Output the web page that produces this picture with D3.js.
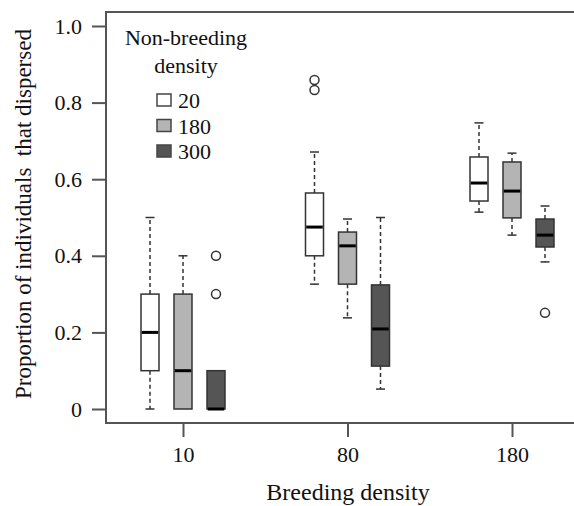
<!DOCTYPE html>
<html>
<head>
<meta charset="utf-8">
<script src="https://cdn.jsdelivr.net/npm/d3@7"></script>
<style>
  body { margin: 0; background: #fff; }
  svg text { font-family: "Liberation Serif", "Times New Roman", serif; fill: #111; }
</style>
</head>
<body>
<div id="chart"></div>
<script>
// breeding density groups on the x axis, non-breeding density series inside each group
const breeding = ['10', '80', '180'];
const nonBreeding = ['20', '180', '300'];
const fills = ['#ffffff', '#b4b4b4', '#555555'];

// box statistics, [series][group]
const whiskerLow = [[0, 0.326, 0.514], [0, 0.238, 0.454], [0, 0.052, 0.384]];
const quart1 = [[0.1, 0.40, 0.543], [0, 0.326, 0.499], [0, 0.112, 0.423]];
const medians = [[0.2, 0.475, 0.59], [0.1, 0.426, 0.569], [0, 0.209, 0.454]];
const quart3 = [[0.3, 0.564, 0.658], [0.3, 0.462, 0.645], [0.1, 0.324, 0.496]];
const whiskerHigh = [[0.5, 0.671, 0.747], [0.4, 0.496, 0.668], [0.1, 0.5, 0.53]];
const outliers = [[[], [0.833, 0.859], []], [[], [], []], [[0.3, 0.4], [], [0.251]]];

const yTicks = [0, 0.2, 0.4, 0.6, 0.8, 1.0];

const width = 574, height = 506;
const margin = { top: 12, left: 106, bottom: 83 };
const plotBottom = height - margin.bottom;

const svg = d3.select('#chart').append('svg')
  .attr('width', width)
  .attr('height', height);

const y = d3.scaleLinear().domain([0, 1]).range([409, 26]);
const x = d3.scalePoint().domain(breeding).range([183, 512]);
const offset = d3.scalePoint().domain(nonBreeding).range([-33, 33]);
const boxW = 18, capW = 9;

// frame (right side is cut off in the original)
const axisColor = '#555';
svg.append('path')
  .attr('d', `M${width + 5},${margin.top}H${margin.left}V${plotBottom}H${width + 5}`)
  .attr('fill', 'none')
  .attr('stroke', axisColor)
  .attr('stroke-width', 2);

// axes
const yAxis = svg.append('g')
  .attr('transform', `translate(${margin.left},0)`)
  .call(d3.axisLeft(y).tickValues(yTicks).tickSize(14).tickPadding(10)
    .tickFormat(d => d === 0 ? '0' : d3.format('.1f')(d)));

const xAxis = svg.append('g')
  .attr('transform', `translate(0,${plotBottom})`)
  .call(d3.axisBottom(x).tickSize(14).tickPadding(9));

[yAxis, xAxis].forEach(ax => {
  ax.select('.domain').remove();
  ax.selectAll('.tick line').attr('stroke', axisColor).attr('stroke-width', 2);
  ax.selectAll('.tick text')
    .style('font-family', '"Liberation Serif", serif')
    .style('font-size', '22px')
    .attr('fill', '#111');
});

// titles
svg.append('text')
  .attr('x', 348)
  .attr('y', 500)
  .attr('text-anchor', 'middle')
  .style('font-size', '24px')
  .text('Breeding density');

svg.append('text')
  .attr('transform', 'translate(31,214) rotate(-90)')
  .attr('text-anchor', 'middle')
  .style('font-size', '23px')
  .style('white-space', 'pre')
  .text('Proportion of individuals  that dispersed');

// boxes
const boxes = [];
nonBreeding.forEach((s, si) => {
  breeding.forEach((g, gi) => {
    boxes.push({
      cx: x(g) + offset(s),
      fill: fills[si],
      lo: whiskerLow[si][gi], q1: quart1[si][gi], med: medians[si][gi],
      q3: quart3[si][gi], hi: whiskerHigh[si][gi], out: outliers[si][gi]
    });
  });
});

const bx = svg.selectAll('g.box')
  .data(boxes)
  .join('g')
  .attr('class', 'box');

const lineColor = '#333';

bx.append('line')
  .attr('x1', d => d.cx).attr('x2', d => d.cx)
  .attr('y1', d => y(d.q3)).attr('y2', d => y(d.hi))
  .attr('stroke', lineColor).attr('stroke-width', 1.5)
  .attr('stroke-dasharray', '4,3');

bx.append('line')
  .attr('x1', d => d.cx).attr('x2', d => d.cx)
  .attr('y1', d => y(d.q1)).attr('y2', d => y(d.lo))
  .attr('stroke', lineColor).attr('stroke-width', 1.5)
  .attr('stroke-dasharray', '4,3');

['hi', 'lo'].forEach(k => {
  bx.filter(d => d[k] !== (k === 'hi' ? d.q3 : d.q1))
    .append('line')
    .attr('x1', d => d.cx - capW / 2).attr('x2', d => d.cx + capW / 2)
    .attr('y1', d => y(d[k])).attr('y2', d => y(d[k]))
    .attr('stroke', lineColor).attr('stroke-width', 1.5);
});

bx.append('rect')
  .attr('x', d => d.cx - boxW / 2)
  .attr('width', boxW)
  .attr('y', d => y(d.q3))
  .attr('height', d => y(d.q1) - y(d.q3))
  .attr('fill', d => d.fill)
  .attr('stroke', lineColor)
  .attr('stroke-width', 1.5);

bx.append('line')
  .attr('x1', d => d.cx - boxW / 2 + 0.75).attr('x2', d => d.cx + boxW / 2 - 0.75)
  .attr('y1', d => y(d.med)).attr('y2', d => y(d.med))
  .attr('stroke', '#000').attr('stroke-width', 3);

bx.selectAll('circle')
  .data(d => d.out.map(v => ({ cx: d.cx, v })))
  .join('circle')
  .attr('cx', d => d.cx)
  .attr('cy', d => y(d.v))
  .attr('r', 4.5)
  .attr('fill', 'none')
  .attr('stroke', lineColor)
  .attr('stroke-width', 1.5);

// legend
const legend = svg.append('g');
legend.append('text')
  .attr('x', 186).attr('y', 45)
  .attr('text-anchor', 'middle')
  .style('font-size', '22px')
  .text('Non-breeding');
legend.append('text')
  .attr('x', 186).attr('y', 73)
  .attr('text-anchor', 'middle')
  .style('font-size', '22px')
  .text('density');

const ly = d3.scalePoint().domain(nonBreeding).range([100, 151]);
const items = legend.selectAll('g.item')
  .data(nonBreeding)
  .join('g')
  .attr('class', 'item')
  .attr('transform', d => `translate(157,${ly(d)})`);

items.append('rect')
  .attr('x', 0).attr('y', -6)
  .attr('width', 14).attr('height', 12)
  .attr('fill', (d, i) => fills[i])
  .attr('stroke', '#444')
  .attr('stroke-width', 1.5);

items.append('text')
  .attr('x', 21).attr('y', 8)
  .style('font-size', '22px')
  .text(d => d);
</script>
</body>
</html>
